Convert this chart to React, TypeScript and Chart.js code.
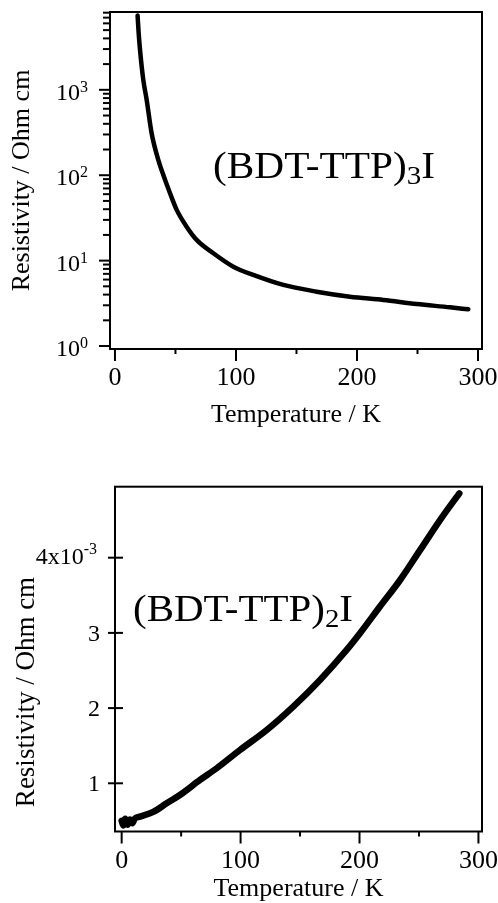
import React, { useEffect, useRef } from "react";
import { Chart, registerables } from "chart.js";
Chart.register(...registerables);

const FONT = "'Liberation Serif', 'Times New Roman', Times, serif";

// Upper panel: (BDT-TTP)3I, temperature (K) vs resistivity (Ohm cm)
const tempA = [18.7, 19.5, 20.7, 23.4, 26.2, 30.3, 35.8, 39.9, 45.5, 51.0, 59.2, 67.5, 81.3, 97.8, 114.3, 139.1, 166.7, 194.2, 221.7, 249.3, 276.9, 292];
const rhoA = [7400, 4800, 2950, 1310, 764, 310, 151, 101, 61.5, 39.3, 25.0, 17.5, 12.2, 8.5, 6.8, 5.19, 4.33, 3.78, 3.46, 3.1, 2.84, 2.69];

// Lower panel: (BDT-TTP)2I, resistivity in units of 1e-3 Ohm cm
const tempB = [0, 1.5, 3, 5, 7, 9, 11, 15.4, 26.6, 37.8, 49, 65.9, 79.9, 99.5, 122, 144.3, 166.8, 189.2, 200.4, 217.2, 234, 250.9, 267.7, 283.9];
const rhoB = [0.5, 0.44, 0.53, 0.45, 0.52, 0.47, 0.53, 0.556, 0.62, 0.734, 0.845, 1.044, 1.2, 1.443, 1.709, 2.02, 2.374, 2.773, 2.995, 3.35, 3.7, 4.1, 4.5, 4.856];

const xMajorTicks = [0, 100, 200, 300];
const xMinorTicks = [50, 150, 250];
const topDecades = [1, 10, 100, 1000];
const bottomYTicks = [1, 2, 3, 4];

const xTitle = "Temperature / K";
const yTitle = "Resistivity / Ohm cm";

function line(ctx: CanvasRenderingContext2D, x1: number, y1: number, x2: number, y2: number) {
  ctx.beginPath();
  ctx.moveTo(x1, y1);
  ctx.lineTo(x2, y2);
  ctx.stroke();
}

function drawFormula(ctx: CanvasRenderingContext2D, x: number, baseline: number, sub: string, targetWidth: number, size: number) {
  ctx.save();
  ctx.fillStyle = "#000";
  ctx.textAlign = "left";
  ctx.textBaseline = "alphabetic";
  const subSize = Math.round(size * 0.7);
  ctx.font = `${size}px ${FONT}`;
  const w1 = ctx.measureText("(BDT-TTP)").width;
  const w3 = ctx.measureText("I").width;
  ctx.font = `${subSize}px ${FONT}`;
  const w2 = ctx.measureText(sub).width;
  const sx = targetWidth / (w1 + w2 + w3);
  ctx.translate(x, baseline);
  ctx.scale(sx, 1);
  ctx.font = `${size}px ${FONT}`;
  ctx.fillText("(BDT-TTP)", 0, 0);
  ctx.font = `${subSize}px ${FONT}`;
  ctx.fillText(sub, w1, size * 0.17);
  ctx.font = `${size}px ${FONT}`;
  ctx.fillText("I", w1 + w2, 0);
  ctx.restore();
}

const topPlugin = {
  id: "topDecor",
  afterDraw(chart: any) {
    const { ctx, chartArea: a } = chart;
    const x = chart.scales.x;
    const y = chart.scales.y;
    ctx.save();
    ctx.strokeStyle = "#000";
    ctx.fillStyle = "#000";
    ctx.lineWidth = 2;
    ctx.strokeRect(a.left, a.top, a.right - a.left, a.bottom - a.top);
    for (const d of topDecades) {
      for (let m = 1; m <= 9; m++) {
        const v = m * d;
        if (v < y.min || v > y.max) continue;
        const py = y.getPixelForValue(v);
        line(ctx, a.left - (m === 1 ? 11 : 7), py, a.left, py);
      }
      const py = y.getPixelForValue(d);
      const exp = String(Math.round(Math.log10(d)));
      const right = a.left - 22;
      ctx.textAlign = "left";
      ctx.textBaseline = "alphabetic";
      ctx.font = `16px ${FONT}`;
      const sw = ctx.measureText(exp).width;
      ctx.font = `24px ${FONT}`;
      const mw = ctx.measureText("10").width;
      ctx.fillText("10", right - sw - mw, py + 10);
      ctx.font = `16px ${FONT}`;
      ctx.fillText(exp, right - sw, py + 2);
    }
    for (const v of xMajorTicks) {
      const px = x.getPixelForValue(v);
      line(ctx, px, a.bottom, px, a.bottom + 12);
    }
    for (const v of xMinorTicks) {
      const px = x.getPixelForValue(v);
      line(ctx, px, a.bottom, px, a.bottom + 5);
    }
    drawFormula(ctx, a.left + 103, a.top + 166, "3", 222, 37);
    ctx.restore();
  },
};

const bottomPlugin = {
  id: "bottomDecor",
  afterDraw(chart: any) {
    const { ctx, chartArea: a } = chart;
    const x = chart.scales.x;
    const y = chart.scales.y;
    ctx.save();
    ctx.strokeStyle = "#000";
    ctx.fillStyle = "#000";
    ctx.lineWidth = 2;
    ctx.strokeRect(a.left, a.top, a.right - a.left, a.bottom - a.top);
    for (const v of bottomYTicks) {
      const py = y.getPixelForValue(v);
      line(ctx, a.left - 7, py, a.left + 8, py);
      ctx.textBaseline = "alphabetic";
      ctx.textAlign = "left";
      if (v === 4) {
        ctx.font = `16px ${FONT}`;
        const sw = ctx.measureText("-3").width;
        ctx.font = `24px ${FONT}`;
        const mw = ctx.measureText("4x10").width;
        const right = a.left - 18;
        ctx.fillText("4x10", right - sw - mw, py + 6);
        ctx.font = `16px ${FONT}`;
        ctx.fillText("-3", right - sw, py - 4);
      } else {
        ctx.font = `24px ${FONT}`;
        ctx.textAlign = "right";
        ctx.fillText(String(v), a.left - 15, py + 8);
      }
    }
    for (const v of xMajorTicks) {
      const px = x.getPixelForValue(v);
      line(ctx, px, a.bottom, px, a.bottom + 12);
    }
    for (const v of xMinorTicks) {
      const px = x.getPixelForValue(v);
      line(ctx, px, a.bottom, px, a.bottom + 5);
    }
    ctx.save();
    ctx.translate(26.5, 242);
    ctx.rotate(-Math.PI / 2);
    ctx.textAlign = "center";
    ctx.textBaseline = "middle";
    ctx.font = `27px ${FONT}`;
    ctx.fillText(yTitle, 0, 0);
    ctx.restore();
    drawFormula(ctx, a.left + 18, a.top + 134.5, "2", 220, 37);
    ctx.restore();
  },
};

function xScale(min: number, max: number, height: number, pad: number, titleLH: number, titlePad: number) {
  return {
    type: "linear",
    min,
    max,
    afterBuildTicks: (s: any) => {
      s.ticks = xMajorTicks.map((v) => ({ value: v }));
    },
    afterFit: (s: any) => {
      s.height = height;
      s.paddingLeft = 0;
      s.paddingRight = 0;
    },
    grid: { display: false, drawTicks: false },
    border: { display: false },
    ticks: { font: { family: FONT, size: 26 }, color: "#000", padding: pad, maxRotation: 0, autoSkip: false },
    title: {
      display: true,
      text: xTitle,
      color: "#000",
      font: { family: FONT, size: 26, lineHeight: titleLH },
      padding: { top: 0, bottom: titlePad },
    },
  };
}

export default function App() {
  const topRef = useRef<HTMLCanvasElement>(null);
  const botRef = useRef<HTMLCanvasElement>(null);

  useEffect(() => {
    const top = new Chart(topRef.current as HTMLCanvasElement, {
      type: "line",
      data: {
        datasets: [
          {
            data: tempA.map((t, i) => ({ x: t, y: rhoA[i] })),
            borderColor: "#000",
            borderWidth: 4.5,
            pointRadius: 0,
            cubicInterpolationMode: "monotone",
            borderCapStyle: "round",
            borderJoinStyle: "round",
            fill: false,
          },
        ],
      },
      options: {
        responsive: false,
        animation: false,
        devicePixelRatio: 1,
        layout: { padding: { top: 12, right: 16, bottom: 0, left: 0 } },
        plugins: { legend: { display: false }, tooltip: { enabled: false } },
        scales: {
          x: xScale(-4.1, 303.3, 101, 14, 1.2, 19),
          y: {
            type: "logarithmic",
            min: 0.923,
            max: 8150,
            afterFit: (s: any) => {
              s.width = 110;
              s.paddingTop = 0;
              s.paddingBottom = 0;
            },
            grid: { display: false },
            border: { display: false },
            ticks: { display: false },
            title: {
              display: true,
              text: yTitle,
              color: "#000",
              font: { family: FONT, size: 26, lineHeight: 1.2 },
              padding: { top: 6.6, bottom: 0 },
            },
          },
        },
      } as any,
      plugins: [topPlugin],
    });

    const bot = new Chart(botRef.current as HTMLCanvasElement, {
      type: "line",
      data: {
        datasets: [
          {
            data: tempB.map((t, i) => ({ x: t, y: rhoB[i] })),
            borderColor: "#000",
            borderWidth: 6.5,
            pointRadius: 0,
            cubicInterpolationMode: "monotone",
            borderCapStyle: "round",
            borderJoinStyle: "round",
            fill: false,
          },
        ],
      },
      options: {
        responsive: false,
        animation: false,
        devicePixelRatio: 1,
        layout: { padding: { top: 36.7, right: 16, bottom: 0, left: 0 } },
        plugins: { legend: { display: false }, tooltip: { enabled: false } },
        scales: {
          x: xScale(-5.6, 303, 71.5, 14.5, 1.0, 1.2),
          y: {
            type: "linear",
            min: 0.359,
            max: 4.944,
            afterFit: (s: any) => {
              s.width = 115;
              s.paddingTop = 0;
              s.paddingBottom = 0;
            },
            grid: { display: false },
            border: { display: false },
            ticks: { display: false },
          },
        },
      } as any,
      plugins: [bottomPlugin],
    });

    return () => {
      top.destroy();
      bot.destroy();
    };
  }, []);

  return (
    <div style={{ position: "absolute", left: 0, top: 0, width: 498, height: 903, background: "#fff" }}>
      <canvas ref={topRef} width={498} height={450} style={{ position: "absolute", left: 0, top: 0, display: "block" }} />
      <canvas ref={botRef} width={498} height={453} style={{ position: "absolute", left: 0, top: 450, display: "block" }} />
    </div>
  );
}
